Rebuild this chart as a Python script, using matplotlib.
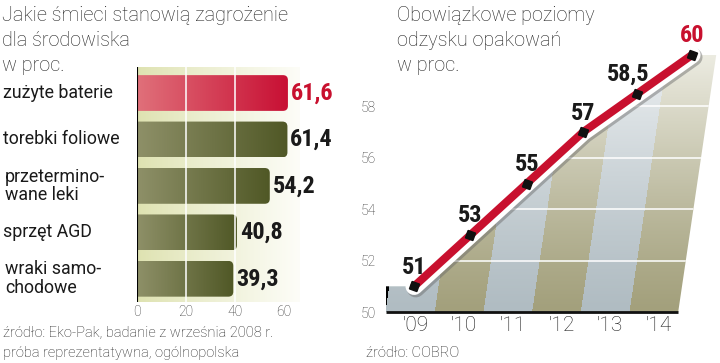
import numpy as np
import matplotlib
matplotlib.use('Agg')
import matplotlib.pyplot as plt
from matplotlib import font_manager as fm
from matplotlib.patches import Polygon, FancyBboxPatch
from matplotlib.transforms import Affine2D, blended_transform_factory
import matplotlib.patheffects as pe

# ---------------- data ----------------
waste_categories = ['zużyte baterie', 'torebki foliowe', 'przetermino-\nwane leki',
                    'sprzęt AGD', 'wraki samo-\nchodowe']
waste_values = [61.6, 61.4, 54.2, 40.8, 39.3]
waste_labels = ['61,6', '61,4', '54,2', '40,8', '39,3']
waste_ticks = [0, 20, 40, 60]

years = ["'09", "'10", "'11", "'12", "'13", "'14"]
recovery_levels = [51, 53, 55, 57, 58.5, 60]
recovery_labels = ['51', '53', '55', '57', '58,5', '60']
recovery_ticks = [50, 52, 54, 56, 58]

# ---------------- fonts ----------------
avail = {f.name for f in fm.fontManager.ttflist}
COND = None
for n in ['Liberation Sans Narrow', 'Roboto Condensed', 'DejaVu Sans Condensed', 'Open Sans Condensed']:
    if n in avail:
        COND = n
        break
if COND is None:
    COND = 'Roboto'
LIGHT = 'Roboto'

RED = '#c8102e'
DARK = '#1a1a1a'

W, H = 720, 363
fig = plt.figure(figsize=(W / 100, H / 100), dpi=100)


def rect(x0, ytop, x1, ybot):
    return [x0 / W, 1 - ybot / H, (x1 - x0) / W, (ybot - ytop) / H]


# ================= left chart =================
axL = fig.add_axes(rect(137, 67, 300, 302))
g = np.linspace(0, 1, 256)[None, :, None]
c0 = np.array([222, 226, 176]) / 255
c1 = np.array([253, 253, 248]) / 255
bg = c0 * (1 - g ** 0.9) + c1 * g ** 0.9
axL.imshow(bg, extent=[0, 1, 0, 1], transform=axL.transAxes, aspect='auto', zorder=0)

pxL_x = 2.45      # px per value unit
pxL_y = 46.5      # px per category step
rad_px = 5.0
r_x = rad_px / pxL_x
asp = (rad_px / pxL_y) / r_x

ypos = np.arange(len(waste_values))
bars = axL.barh(ypos, waste_values, height=0.77, color='none', edgecolor='none', zorder=2)
for i, b in enumerate(bars):
    x0, y0, w, h = b.get_x(), b.get_y(), b.get_width(), b.get_height()
    shape = FancyBboxPatch((x0 - 2 * r_x, y0), w + 2 * r_x, h,
                           boxstyle=f'round,pad=0,rounding_size={r_x}',
                           mutation_aspect=asp, facecolor='none', edgecolor='none',
                           transform=axL.transData)
    axL.add_patch(shape)
    if i == 0:
        ca = np.array([224, 112, 122]) / 255
        cb = np.array([200, 16, 52]) / 255
    else:
        ca = np.array([142, 144, 104]) / 255
        cb = np.array([80, 88, 38]) / 255
    gg = np.linspace(0, 1, 128)[None, :, None]
    gi = ca * (1 - gg) + cb * gg
    im = axL.imshow(gi, extent=[x0, x0 + w, y0 + h, y0], aspect='auto', zorder=2,
                    interpolation='bilinear')
    im.set_clip_path(shape)
    axL.annotate(waste_labels[i], (x0 + w, i), xytext=(2, 0), textcoords='offset points',
                 ha='left', va='center', fontsize=17.5, fontweight='bold', family=COND,
                 color=RED if i == 0 else DARK, annotation_clip=False, zorder=6)

for xv in waste_ticks[1:3]:
    axL.axvline(xv, color='white', lw=1.1, zorder=3)
axL.axvline(0, color='black', lw=1.5, zorder=4)

axL.set_xlim(0, 163 / pxL_x)
axL.set_ylim(4.5, -0.56)
axL.set_xticks(waste_ticks)
axL.set_xticklabels([str(t) for t in waste_ticks], family=LIGHT, fontweight='light')
axL.set_yticks([])
axL.tick_params(axis='x', length=0, pad=2, labelsize=10, labelcolor='#333333')
for sp in axL.spines.values():
    sp.set_visible(False)

tr = blended_transform_factory(fig.transFigure, axL.transData)
for i, lab in enumerate(waste_categories):
    xoff = 3 if '\n' not in lab else 5
    fig.text(xoff / W, i, lab, transform=tr, ha='left', va='center', fontsize=12.8,
             family=LIGHT, color=DARK, linespacing=1.05)

# titles / footnotes left
for k, line in enumerate(['Jakie śmieci stanowią zagrożenie', 'dla środowiska', 'w proc.']):
    fig.text(2 / W, 1 - (21 + 25 * k) / H, line, ha='left', va='baseline', fontsize=14.3,
             family=LIGHT, fontweight='light', color='#222222')
for k, line in enumerate(['źródło: Eko-Pak, badanie z września 2008 r.',
                          'próba reprezentatywna, ogólnopolska']):
    fig.text(3 / W, 1 - (337 + 20 * k) / H, line, ha='left', va='baseline', fontsize=10.5,
             family=LIGHT, fontweight='light', color='#222222')

# ================= right chart =================
axR = fig.add_axes(rect(386, 20, 720, 312))
pxx, pxy = 48.7, 25.7
axR.set_xlim(-0.5, -0.5 + 334 / pxx)
ytop = 50 + 292 / pxy
axR.set_ylim(50, ytop)
base = 50.0
s = 3.8 / pxx


def shear(x, yv):
    return np.asarray(x) + s * (np.asarray(yv) - base)


xs = np.arange(len(years))
lv = np.array(recovery_levels, dtype=float)
lx = shear(xs, lv)

# striped background image (sheared)
nrows = 300
t = np.linspace(0, 1, nrows)[:, None]
f = t ** 1.2
grey_b = np.array([176, 188, 194]) / 255
grey_t = np.array([246, 248, 249]) / 255
olive_b = np.array([163, 160, 124]) / 255
olive_t = np.array([248, 248, 242]) / 255
img = np.zeros((nrows, len(years) * 20, 3))
for i in range(len(years)):
    cb, ct = (grey_b, grey_t) if i % 2 == 0 else (olive_b, olive_t)
    img[:, i * 20:(i + 1) * 20, :] = (cb * (1 - f) + ct * f)[:, None, :]
im = axR.imshow(img, extent=[-0.5, len(years) - 0.5, 50, ytop], origin='lower', aspect='auto',
                interpolation='nearest', zorder=1)
skew = Affine2D(np.array([[1, s, -s * base], [0, 1, 0], [0, 0, 1]]))
im.set_transform(skew + axR.transData)

right_edge = len(years) - 0.5
verts = [(-0.5, base), (-0.5, lv[0])] + list(zip(lx, lv)) + \
        [(float(shear(right_edge, lv[-1])), lv[-1]), (right_edge, base)]
poly = Polygon(verts, closed=True, facecolor='none', edgecolor='none', transform=axR.transData)
axR.add_patch(poly)
im.set_clip_path(poly)

for yv in recovery_ticks[1:]:
    ln, = axR.plot(shear([-0.5, right_edge], [yv, yv]), [yv, yv], color='white', lw=1.1, zorder=2)
    ln.set_clip_path(poly)

axR.plot([-0.5, right_edge], [base, base], color='#111111', lw=2, zorder=3, clip_on=False,
         solid_capstyle='butt')

axR.plot(lx, lv, color=RED, lw=5.8, solid_capstyle='round', zorder=5, clip_on=False,
         path_effects=[pe.SimpleLineShadow(offset=(1.2, -1.5), shadow_color='#666666', alpha=0.45,
                                           linewidth=13),
                       pe.Stroke(linewidth=12.5, foreground='white', capstyle='round'),
                       pe.Normal()])
axR.plot(lx, lv, ls='none', marker=(4, 0, 25), ms=8, color='#111111', zorder=6, clip_on=False)

for i, lab in enumerate(recovery_labels):
    dx = -7 if ',' in lab else 0
    axR.annotate(lab, (lx[i], lv[i]), xytext=(dx, 9), textcoords='offset points', ha='center',
                 va='baseline', fontsize=17.5, fontweight='bold', family=COND,
                 color=RED if i == len(recovery_labels) - 1 else DARK, annotation_clip=False,
                 zorder=7)

axR.set_xticks(xs + 0.1)
axR.set_xticklabels(years, family=LIGHT, fontweight='light')
axR.set_yticks(recovery_ticks)
axR.set_yticklabels([str(t) for t in recovery_ticks], family=LIGHT, fontweight='light')
axR.tick_params(axis='x', length=0, pad=3, labelsize=15, labelcolor='#1a1a1a')
axR.tick_params(axis='y', length=0, pad=7, labelsize=10, labelcolor='#333333')
for sp in axR.spines.values():
    sp.set_visible(False)

for k, line in enumerate(['Obowiązkowe poziomy', 'odzysku opakowań', 'w proc.']):
    fig.text(397 / W, 1 - (21 + 25 * k) / H, line, ha='left', va='baseline', fontsize=14.3,
             family=LIGHT, fontweight='light', color='#222222')
fig.text(366 / W, 1 - 357 / H, 'źródło: COBRO', ha='left', va='baseline', fontsize=10.5,
         family=LIGHT, fontweight='light', color='#222222')

fig.savefig('out.png', dpi=100, facecolor='white')
